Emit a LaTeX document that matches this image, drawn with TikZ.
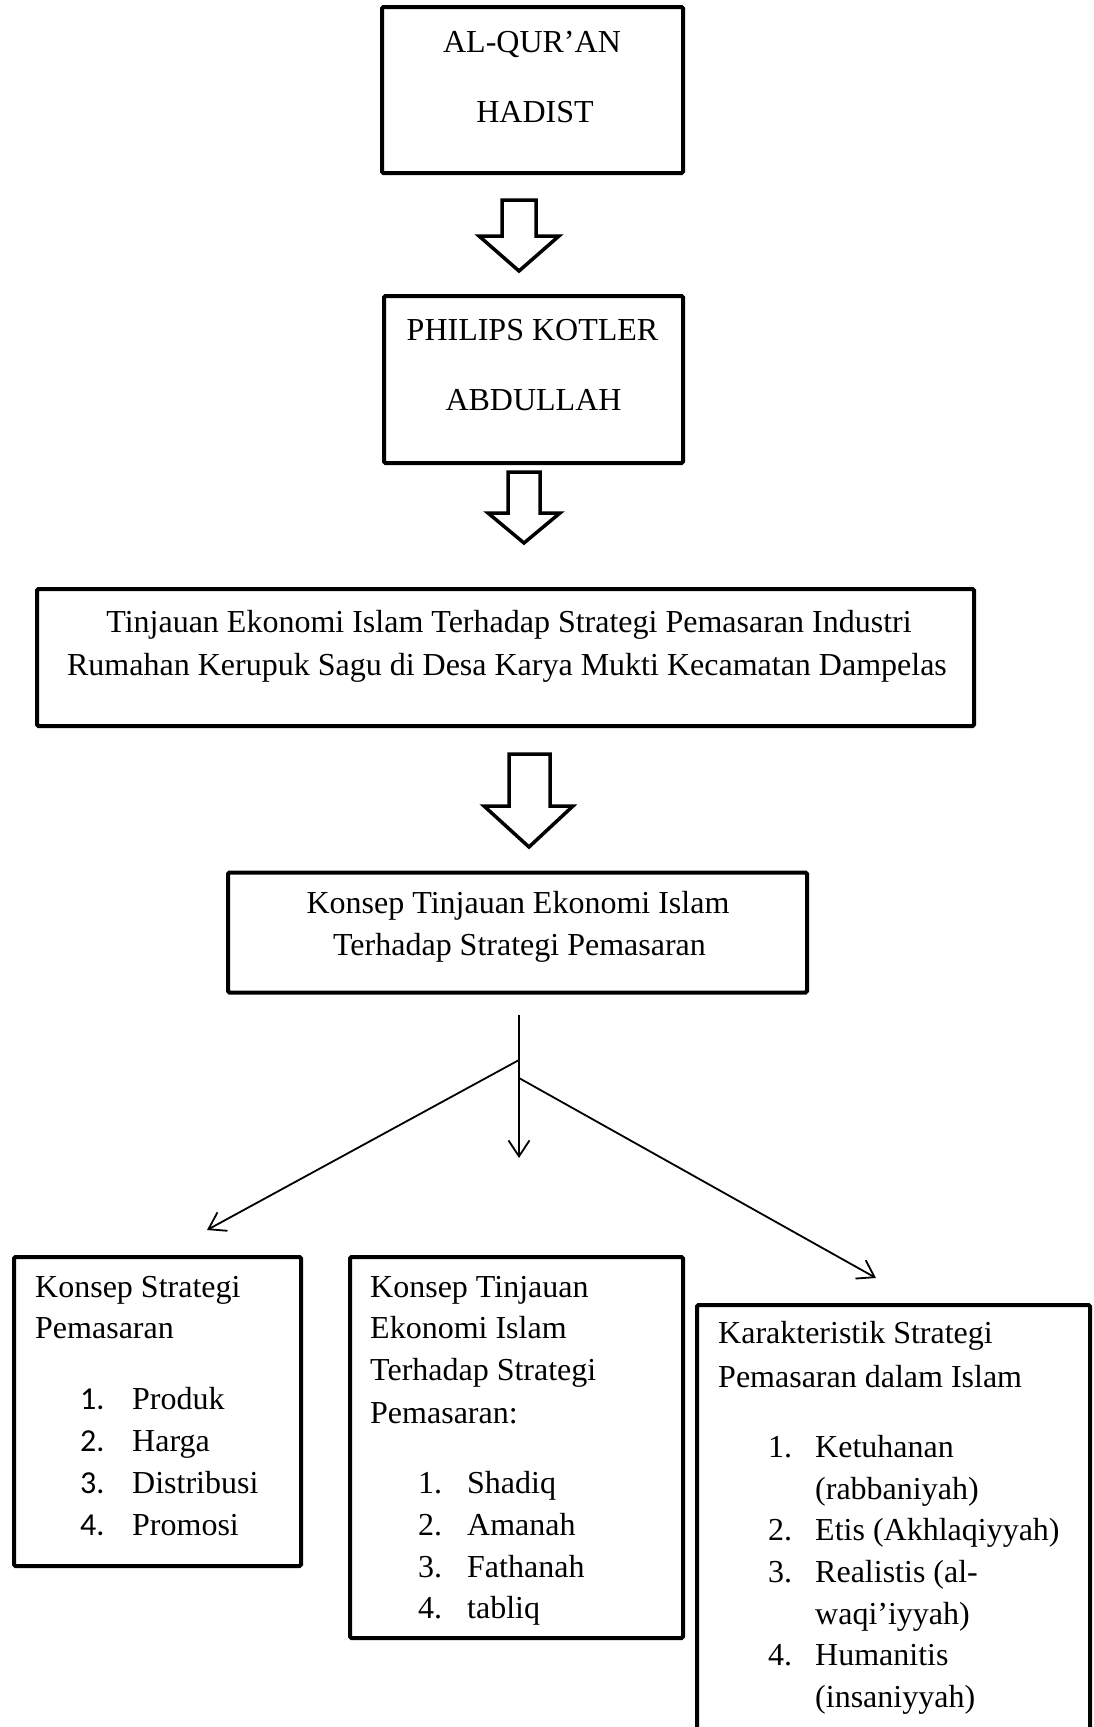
\documentclass[tikz,border=0pt]{standalone}
\usepackage{fontspec}
\setmainfont{Liberation Serif}
\newfontfamily\numsans{Carlito}
\usetikzlibrary{arrows.meta}
\begin{document}
\begin{tikzpicture}[x=1pt,y=-1pt,
  frame/.style={draw, line width=4pt, rectangle, inner sep=0pt, rounded corners=1.5pt},
  txt/.style={inner sep=0pt, font=\fontsize{32}{41.7}\selectfont},
  ctxt/.style={txt, anchor=base},
  ltxt/.style={txt, anchor=base west},
  blockarrow/.style={draw, line width=3.5pt, fill=white, line join=miter},
  conn/.style={line width=1.8pt, -{Straight Barb[length=16pt,width=21pt]}},
]
\useasboundingbox (0,0) rectangle (1093,1727);
\fill[white] (0,0) rectangle (1093,1727);

% boxes
\node[frame, minimum width=301pt, minimum height=166pt] (b1) at (532.5,90) {};
\node[frame, minimum width=299pt, minimum height=167pt] (b2) at (533.5,379.5) {};
\node[frame, minimum width=937pt, minimum height=137pt] (b3) at (505.5,657.5) {};
\node[frame, minimum width=579pt, minimum height=120pt] (b4) at (517.5,932.5) {};
\node[frame, minimum width=287pt, minimum height=309pt] (b5) at (157.5,1411.5) {};
\node[frame, minimum width=333pt, minimum height=381pt] (b6) at (516.5,1447.5) {};
\node[frame, minimum width=393pt, minimum height=475pt] (b7) at (893.5,1542.5) {};

% box 1
\node[ctxt] (t1a) at (532,52) {AL-QUR’AN};
\node[ctxt] (t1b) at (535,122) {HADIST};
% box 2
\node[ctxt] (t2a) at (532.5,340) {PHILIPS KOTLER};
\node[ctxt] (t2b) at (533.5,410) {ABDULLAH};
% box 3
\node[ctxt] (t3a) at (509,632) {Tinjauan Ekonomi Islam Terhadap Strategi Pemasaran Industri};
\node[ctxt] (t3b) at (507,675) {Rumahan Kerupuk Sagu di Desa Karya Mukti Kecamatan Dampelas};
% box 4
\node[ctxt] (t4a) at (518,913) {Konsep Tinjauan Ekonomi Islam};
\node[ctxt] (t4b) at (519.5,955) {Terhadap Strategi Pemasaran};

% box 5
\node[ltxt] (t5a) at (35,1297) {Konsep Strategi};
\node[ltxt] (t5b) at (35,1338) {Pemasaran};
\node[ltxt] (n51) at (80,1409) {\numsans 1.};
\node[ltxt] (i51) at (132,1409) {Produk};
\node[ltxt] (n52) at (80,1451) {\numsans 2.};
\node[ltxt] (i52) at (132,1451) {Harga};
\node[ltxt] (n53) at (80,1493) {\numsans 3.};
\node[ltxt] (i53) at (132,1493) {Distribusi};
\node[ltxt] (n54) at (80,1535) {\numsans 4.};
\node[ltxt] (i54) at (132,1535) {Promosi};

% box 6
\node[ltxt] (t6a) at (370,1297) {Konsep Tinjauan};
\node[ltxt] (t6b) at (370,1338) {Ekonomi Islam};
\node[ltxt] (t6c) at (370,1380) {Terhadap Strategi};
\node[ltxt] (t6d) at (370,1423) {Pemasaran:};
\node[ltxt] (n61) at (418,1493) {1.};
\node[ltxt] (i61) at (467,1493) {Shadiq};
\node[ltxt] (n62) at (418,1535) {2.};
\node[ltxt] (i62) at (467,1535) {Amanah};
\node[ltxt] (n63) at (418,1577) {3.};
\node[ltxt] (i63) at (467,1577) {Fathanah};
\node[ltxt] (n64) at (418,1618) {4.};
\node[ltxt] (i64) at (467,1618) {tabliq};

% box 7
\node[ltxt] (t7a) at (718,1343) {Karakteristik Strategi};
\node[ltxt] (t7b) at (718,1387) {Pemasaran dalam Islam};
\node[ltxt] (n71) at (768,1457) {1.};
\node[ltxt] (i71) at (815,1457) {Ketuhanan};
\node[ltxt] (i71b) at (815,1499) {(rabbaniyah)};
\node[ltxt] (n72) at (768,1540) {2.};
\node[ltxt] (i72) at (815,1540) {Etis (Akhlaqiyyah)};
\node[ltxt] (n73) at (768,1582) {3.};
\node[ltxt] (i73) at (815,1582) {Realistis (al-};
\node[ltxt] (i73b) at (815,1624) {waqi’iyyah)};
\node[ltxt] (n74) at (768,1665) {4.};
\node[ltxt] (i74) at (815,1665) {Humanitis};
\node[ltxt] (i74b) at (815,1707) {(insaniyyah)};

% block arrows
\draw[blockarrow] (502,200) -- (536,200) -- (536,236) -- (559,236) -- (519,271) -- (479,236) -- (502,236) -- cycle;
\draw[blockarrow] (508,472) -- (540,472) -- (540,513) -- (560,513) -- (524,543) -- (488,513) -- (508,513) -- cycle;
\draw[blockarrow] (509,754) -- (550,754) -- (550,806) -- (573,806) -- (529,847) -- (484,806) -- (509,806) -- cycle;

% thin connectors
\coordinate (top) at (519,1015);
\coordinate (jl) at (519,1060);
\coordinate (jr) at (519,1078);
\coordinate (tl) at (207,1230);
\coordinate (tm) at (519,1158);
\coordinate (tr) at (876,1278);
\draw[conn] (top) -- (tm);
\draw[conn] (jl) -- (tl);
\draw[conn] (jr) -- (tr);
\end{tikzpicture}
\end{document}
